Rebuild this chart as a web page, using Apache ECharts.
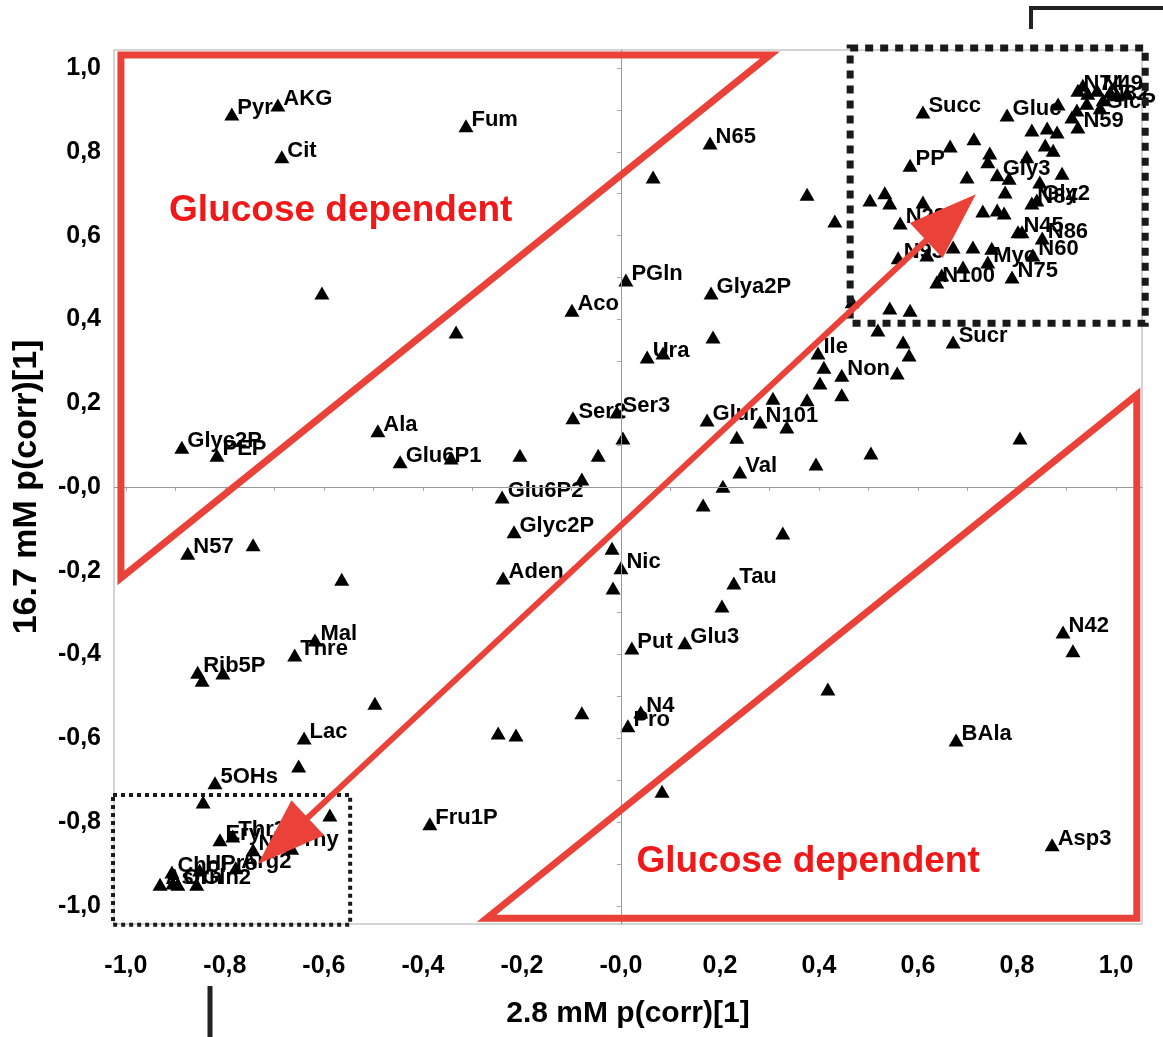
<!DOCTYPE html>
<html>
<head>
<meta charset="utf-8">
<script src="https://cdn.jsdelivr.net/npm/echarts@6/dist/echarts.min.js"></script>
<style>
html, body { margin: 0; padding: 0; background: #fff; }
#result { width: 1163px; height: 1037px; }
</style>
</head>
<body>
<div id="result"></div>
<script>
// ---- data ----
var names = [
    'Pyr', 'AKG', 'Cit', 'Fum', 'N65', 'Glyc2P', 'PEP', 'N57', 'Ala', 'Glu6P1',
    'Glu6P2', 'Glyc2P', 'Aden', 'Aco', 'PGln', 'Ura', 'Ser2', 'Ser3', 'Glya2P', 'Glur',
    'N101', 'Val', 'Ile', 'Non', 'Sucr', 'Succ', 'Gluc', 'PP', 'Gly3', 'Gly2',
    'N84', 'N28', 'N93', 'N45', 'N86', 'N60', 'Myo', 'N75', 'N100', 'N74',
    'N49', 'N82', 'GlcP', 'N59', 'BAla', 'N42', 'Asp3', 'Tau', 'Nic', 'Put',
    'Glu3', 'N4', 'Pro', 'Fru1P', 'Mal', 'Thre', 'Rib5P', 'Lac', '5OHs', 'Ery',
    'Thr3', 'N8', 'Orny', 'Chol', 'HPro', 'Arg2', 'Asn', 'Orn', 'Gln2'
];
var xVals = [
    -0.786, -0.693, -0.685, -0.313, 0.180, -0.887, -0.816, -0.875, -0.491, -0.446,
    -0.240, -0.216, -0.238, -0.099, 0.010, 0.053, -0.097, -0.008, 0.182, 0.174,
    0.281, 0.240, 0.398, 0.446, 0.671, 0.610, 0.780, 0.584, 0.760, 0.840,
    0.830, 0.564, 0.560, 0.802, 0.851, 0.832, 0.741, 0.790, 0.638, 0.923,
    0.962, 0.974, 0.968, 0.923, 0.677, 0.893, 0.871, 0.228, 0.000, 0.022,
    0.129, 0.040, 0.014, -0.386, -0.618, -0.659, -0.855, -0.640, -0.820, -0.810,
    -0.784, -0.743, -0.685, -0.907, -0.851, -0.778, -0.931, -0.895, -0.857
];
var yVals = [
    0.890, 0.912, 0.788, 0.862, 0.821, 0.095, 0.076, -0.158, 0.134, 0.060,
    -0.024, -0.107, -0.217, 0.422, 0.494, 0.310, 0.165, 0.179, 0.463, 0.160,
    0.155, 0.036, 0.320, 0.267, 0.346, 0.895, 0.888, 0.768, 0.745, 0.685,
    0.678, 0.630, 0.547, 0.609, 0.594, 0.554, 0.537, 0.501, 0.489, 0.947,
    0.947, 0.924, 0.905, 0.859, -0.604, -0.346, -0.854, -0.229, -0.193, -0.384,
    -0.372, -0.537, -0.570, -0.804, -0.365, -0.401, -0.442, -0.599, -0.706, -0.842,
    -0.833, -0.866, -0.857, -0.919, -0.914, -0.909, -0.948, -0.948, -0.948
];
// unlabeled triangles
var xOther = [
    -0.604, -0.333, 0.065, 0.376, 0.432, 0.186, 0.085, 0.004, -0.046, -0.204,
    -0.343, -0.079, 0.206, 0.166, 0.327, 0.204, -0.018, -0.016, -0.079, -0.248,
    -0.212, 0.083, 0.418, 0.505, 0.806, 0.394, 0.234, 0.307, 0.335, 0.376,
    0.402, 0.446, 0.410, 0.558, 0.582, 0.570, 0.519, 0.543, 0.584, 0.467,
    0.503, 0.533, 0.543, 0.610, 0.665, 0.713, 0.745, 0.741, 0.699, 0.776,
    0.784, 0.820, 0.891, 0.846, 0.731, 0.760, 0.774, 0.810, 0.671, 0.711,
    0.749, 0.618, 0.691, 0.648, 0.883, 0.830, 0.861, 0.881, 0.857, 0.873,
    0.933, 0.943, 0.988, 1.002, 1.022, 0.941, 0.921, 0.911, -0.743, -0.564,
    -0.846, -0.804, -0.497, -0.651, -0.844, -0.588, 0.913, -0.665, -0.905
];
var yOther = [
    0.463, 0.370, 0.740, 0.699, 0.635, 0.358, 0.320, 0.117, 0.076, 0.076,
    0.069, 0.019, 0.002, -0.043, -0.110, -0.284, -0.146, -0.241, -0.539, -0.587,
    -0.592, -0.726, -0.482, 0.081, 0.117, 0.055, 0.119, 0.212, 0.143, 0.208,
    0.248, 0.220, 0.286, 0.272, 0.315, 0.346, 0.375, 0.427, 0.422, 0.442,
    0.685, 0.702, 0.678, 0.680, 0.814, 0.831, 0.797, 0.776, 0.740, 0.704,
    0.737, 0.788, 0.749, 0.728, 0.659, 0.661, 0.654, 0.609, 0.573, 0.573,
    0.570, 0.554, 0.525, 0.506, 0.914, 0.852, 0.857, 0.847, 0.816, 0.804,
    0.959, 0.940, 0.943, 0.936, 0.940, 0.916, 0.900, 0.883, -0.138, -0.220,
    -0.461, -0.444, -0.516, -0.666, -0.752, -0.783, -0.391, -0.862, -0.945
];
var tickValues = [-1, -0.8, -0.6, -0.4, -0.2, 0, 0.2, 0.4, 0.6, 0.8, 1];
var minorTicks = [-1, -0.9, -0.8, -0.7, -0.6, -0.5, -0.4, -0.3, -0.2, -0.1, 0,
    0.1, 0.2, 0.3, 0.4, 0.5, 0.6, 0.7, 0.8, 0.9, 1];
var xTitle = '2.8 mM p(corr)[1]';
var yTitle = '16.7 mM p(corr)[1]';
var noteText = 'Glucose dependent';

// annotation shapes, in data coordinates
var upperTri = [[-1.010, 1.031], [0.301, 1.031], [-1.010, -0.217]];
var lowerTri = [[1.042, 0.220], [1.042, -1.029], [-0.271, -1.029]];
var arrowEnds = [[-0.733, -0.900], [0.717, 0.699]];
var notePos = [[-0.566, 0.659], [0.378, -0.895]];
var boxTop = [[0.463, 1.048], [1.059, 0.391]];
var boxBottom = [[-1.026, -0.735], [-0.547, -1.045]];

var FONT = "'Liberation Sans', Arial, sans-serif";
var RED_LINE = '#ea4238';
var RED_TEXT = '#f01818';

function tickFmt(v) {
    var s = Math.abs(v).toFixed(1).replace('.', ',');
    return (v < 0.001 ? '-' : '') + s;
}

var pts = [];
for (var i = 0; i < names.length; i++) {
    pts.push([xVals[i], yVals[i], names[i]]);
}
for (var j = 0; j < xOther.length; j++) {
    pts.push([xOther[j], yOther[j], '']);
}

var axisFont = { fontFamily: FONT, fontWeight: 'bold', fontSize: 25, color: '#000' };

var option = {
    animation: false,
    backgroundColor: '#fff',
    grid: {
        left: 114, right: 21, top: 50, bottom: 113,
        show: true, borderColor: '#aaa', borderWidth: 1
    },
    xAxis: {
        type: 'value',
        min: -1.024, max: 1.0525,
        name: xTitle,
        nameLocation: 'middle',
        nameGap: 75,
        nameTextStyle: { fontFamily: FONT, fontWeight: 'bold', fontSize: 30, color: '#000' },
        axisLine: { show: true, lineStyle: { color: '#aaa', width: 1 } },
        axisTick: { show: true, length: 4, customValues: minorTicks, lineStyle: { color: '#aaa' } },
        axisLabel: Object.assign({ customValues: tickValues, formatter: tickFmt, margin: 30 }, axisFont),
        splitLine: { show: false }
    },
    yAxis: {
        type: 'value',
        min: -1.043, max: 1.043,
        name: yTitle,
        nameLocation: 'middle',
        nameRotate: 90,
        nameGap: 70,
        nameTextStyle: { fontFamily: FONT, fontWeight: 'bold', fontSize: 34, color: '#000' },
        axisLine: { show: true, lineStyle: { color: '#aaa', width: 1 } },
        axisTick: { show: true, length: 4, customValues: minorTicks, lineStyle: { color: '#aaa' } },
        axisLabel: Object.assign({ customValues: tickValues, formatter: tickFmt, margin: 13 }, axisFont),
        splitLine: { show: false }
    },
    series: [{
        type: 'scatter',
        symbol: 'triangle',
        symbolSize: [15, 13],
        itemStyle: { color: '#000', opacity: 1 },
        label: {
            show: true,
            position: 'right',
            distance: -2,
            offset: [0, -6],
            formatter: function (p) { return p.data[2]; },
            fontFamily: FONT,
            fontWeight: 'bold',
            fontSize: 22,
            color: '#000',
            opacity: 1
        },
        markLine: {   // zero lines
            silent: true,
            symbol: ['none', 'none'],
            label: { show: false },
            lineStyle: { color: '#999', width: 1, type: 'solid' },
            data: [{ xAxis: 0 }, { yAxis: 0 }]
        },
        data: pts
    }]
};

var myChart = echarts.init(document.getElementById('result'));
myChart.setOption(option);

// ---- overlays ----
function toPx(p) { return myChart.convertToPixel({ gridIndex: 0 }, p); }

function arrowHead(tip, ux, uy, len, half) {
    var bx = tip[0] - ux * len, by = tip[1] - uy * len;
    return [tip, [bx - uy * half, by + ux * half], [bx + uy * half, by - ux * half]];
}

var a = toPx(arrowEnds[0]);
var b = toPx(arrowEnds[1]);
var dx = b[0] - a[0], dy = b[1] - a[1];
var L = Math.sqrt(dx * dx + dy * dy);
var ux = dx / L, uy = dy / L;
var headLen = 68, headHalf = 24;

var redLine = { stroke: RED_LINE, lineWidth: 7, fill: null, lineJoin: 'miter' };

function boxRect(box, w, dash) {
    var p1 = toPx(box[0]), p2 = toPx(box[1]);
    return {
        type: 'rect', z: 100,
        shape: { x: p1[0], y: p1[1], width: p2[0] - p1[0], height: p2[1] - p1[1] },
        style: { fill: null, stroke: '#1a1a1a', lineWidth: w, lineDash: dash }
    };
}

function note(p) {
    var q = toPx(p);
    return {
        type: 'text', z: 100, x: q[0], y: q[1],
        style: {
            text: noteText, fill: RED_TEXT,
            font: 'bold 37px ' + FONT,
            textAlign: 'center', textVerticalAlign: 'middle',
            align: 'center', verticalAlign: 'middle'
        }
    };
}

myChart.setOption({
    graphic: [
        boxRect(boxTop, 7, [8, 7]),
        boxRect(boxBottom, 4, [4, 4]),
        { type: 'polygon', z: 110, shape: { points: upperTri.map(toPx) }, style: redLine },
        { type: 'polygon', z: 110, shape: { points: lowerTri.map(toPx) }, style: redLine },
        {
            type: 'line', z: 110,
            shape: {
                x1: a[0] + ux * (headLen - 4), y1: a[1] + uy * (headLen - 4),
                x2: b[0] - ux * (headLen - 4), y2: b[1] - uy * (headLen - 4)
            },
            style: { stroke: RED_LINE, lineWidth: 6 }
        },
        { type: 'polygon', z: 110, shape: { points: arrowHead(b, ux, uy, headLen, headHalf) }, style: { fill: RED_LINE } },
        { type: 'polygon', z: 110, shape: { points: arrowHead(a, -ux, -uy, headLen, headHalf) }, style: { fill: RED_LINE } },
        note(notePos[0]),
        note(notePos[1]),
        // crop marks at the page edge
        { type: 'polyline', z: 100, shape: { points: [[1031, 29], [1031, 8], [1163, 8]] }, style: { stroke: '#222', lineWidth: 4, fill: null } },
        { type: 'line', z: 100, shape: { x1: 210, y1: 986, x2: 210, y2: 1037 }, style: { stroke: '#222', lineWidth: 5 } }
    ]
});
</script>
</body>
</html>
